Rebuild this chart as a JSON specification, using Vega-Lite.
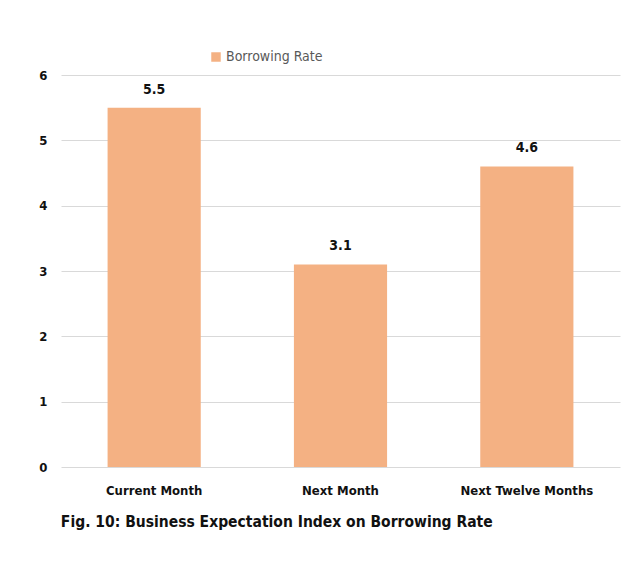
{
  "$schema": "https://vega.github.io/schema/vega-lite/v6.json",
  "width": 559,
  "height": 392,
  "autosize": {"type": "none"},
  "padding": {"left": 61, "top": 75, "right": 15, "bottom": 105},
  "background": "white",
  "config": {
    "view": {"stroke": null},
    "font": "Liberation Sans"
  },
  "title": {
    "text": "Fig. 10: Business Expectation Index on Borrowing Rate",
    "orient": "bottom",
    "anchor": "start",
    "offset": 18,
    "fontSize": 15.5,
    "fontWeight": "bold",
    "color": "#111111",
    "font": "DejaVu Sans Condensed",
    "dx": 22
  },
  "data": {
    "values": [
      {"period": "Current Month", "series": "Borrowing Rate", "value": 5.5},
      {"period": "Next Month", "series": "Borrowing Rate", "value": 3.1},
      {"period": "Next Twelve Months", "series": "Borrowing Rate", "value": 4.6}
    ]
  },
  "encoding": {
    "x": {
      "field": "period",
      "type": "nominal",
      "sort": null,
      "scale": {"paddingInner": 0.5, "paddingOuter": 0.25},
      "axis": {
        "title": null,
        "labelAngle": 0,
        "domain": false,
        "ticks": false,
        "labelPadding": 17,
        "labelFontSize": 13,
        "labelFontWeight": "bold",
        "labelColor": "#111111",
        "labelFont": "DejaVu Sans Condensed"
      }
    },
    "y": {
      "field": "value",
      "type": "quantitative",
      "scale": {"domain": [0, 6]},
      "axis": {
        "title": null,
        "values": [0, 1, 2, 3, 4, 5, 6],
        "domain": false,
        "ticks": false,
        "labelPadding": 14,
        "labelFontSize": 13,
        "labelFontWeight": "bold",
        "labelColor": "#111111",
        "labelFont": "DejaVu Sans Condensed",
        "gridColor": "#D9D9D9",
        "gridWidth": 1.2
      }
    }
  },
  "layer": [
    {
      "mark": {"type": "bar", "color": "#F4B183"},
      "encoding": {
        "color": {
          "field": "series",
          "type": "nominal",
          "scale": {"range": ["#F4B183"]},
          "legend": {
            "title": null,
            "orient": "none",
            "legendX": 148,
            "legendY": -25,
            "symbolType": "square",
            "symbolSize": 90,
            "labelFontSize": 14,
            "labelColor": "#595959",
            "labelFont": "DejaVu Sans Condensed",
            "symbolOffset": 0,
            "labelOffset": 3
          }
        }
      }
    },
    {
      "mark": {
        "type": "text",
        "baseline": "bottom",
        "dy": -11,
        "fontSize": 14,
        "fontWeight": "bold",
        "color": "#111111",
        "font": "DejaVu Sans Condensed"
      },
      "encoding": {
        "text": {"field": "value", "type": "quantitative", "format": ".1f"}
      }
    }
  ]
}
